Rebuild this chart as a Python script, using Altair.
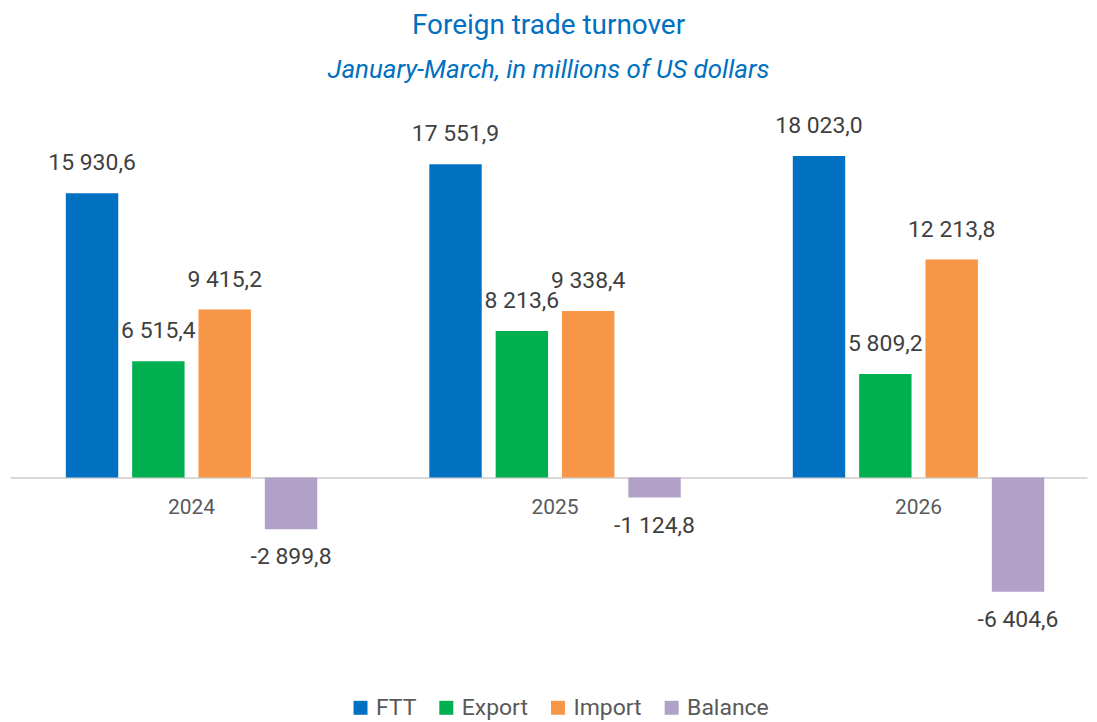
import altair as alt
import pandas as pd

years = ["2024", "2025", "2026"]
series = ["FTT", "Export", "Import", "Balance"]
ftt = [15930.6, 17551.9, 18023.0]
export = [6515.4, 8213.6, 5809.2]
imports = [9415.2, 9338.4, 12213.8]
balance = [-2899.8, -1124.8, -6404.6]
colors = ["#0070C0", "#00B050", "#F79646", "#B1A0C7"]

rows = []
for i, y in enumerate(years):
    for s, vals in zip(series, [ftt, export, imports, balance]):
        rows.append({"year": y, "series": s, "value": vals[i]})
df = pd.DataFrame(rows)


def fmt(v):
    s = f"{abs(v):,.1f}".replace(",", " ").replace(".", ",")
    return ("-" if v < 0 else "") + s


df["label"] = df["value"].apply(fmt)

W = 1080
H = 501
FONT = "Roboto"
YMIN, YMAX = -8000, 20000
zero_from_bottom = H * (0 - YMIN) / (YMAX - YMIN)

x_enc = alt.X(
    "year:N",
    scale=alt.Scale(paddingInner=0.27, paddingOuter=0.1165, align=0.577),
    axis=alt.Axis(title=None, orient="bottom", offset=-zero_from_bottom,
                  ticks=False, domainColor="#D9D9D9", domainWidth=2,
                  labelFont=FONT, labelFontSize=21, labelColor="#595959",
                  labelPadding=30, labelBaseline="middle", labelAngle=0),
)
xoff = alt.XOffset("series:N", sort=series,
                   scale=alt.Scale(paddingInner=0.21, paddingOuter=0.105))
y_enc = alt.Y("value:Q", axis=None,
              scale=alt.Scale(domain=[YMIN, YMAX], nice=False, zero=True))

base = alt.Chart(df)

bars = base.mark_bar().encode(
    x=x_enc, xOffset=xoff, y=y_enc,
    color=alt.Color("series:N", sort=series,
                    scale=alt.Scale(domain=series, range=colors),
                    legend=alt.Legend(title=None, orient="none", direction="horizontal",
                                      legendX=340, legendY=577, symbolType="square",
                                      symbolSize=196, symbolStrokeWidth=0,
                                      labelFont=FONT, labelFontSize=23, labelColor="#595959",
                                      columnPadding=18, labelOffset=4, padding=0)),
)

pos_labels = base.transform_filter("datum.value >= 0").mark_text(
    font=FONT, fontSize=23, color="#404040", dy=-30, baseline="middle"
).encode(x=x_enc, xOffset=xoff, y=y_enc, text="label:N")

neg_labels = base.transform_filter("datum.value < 0").mark_text(
    font=FONT, fontSize=23, color="#404040", dy=28, baseline="middle"
).encode(x=x_enc, xOffset=xoff, y=y_enc, text="label:N")

chart = alt.layer(bars, pos_labels, neg_labels).properties(
    width=W, height=H,
    padding={"left": 2, "top": 112, "right": 2, "bottom": 100},
    autosize=alt.AutoSizeParams(type="none"),
    title=alt.TitleParams(
        text="Foreign trade turnover",
        subtitle="January-March, in millions of US dollars",
        anchor="middle", font=FONT, fontSize=28, fontWeight="normal", color="#0070C0",
        subtitleFont=FONT, subtitleFontSize=26, subtitleFontStyle="italic",
        subtitleColor="#0070C0", subtitlePadding=17, offset=32,
    ),
).configure_view(stroke=None)

chart.save("out.html", embed_options={"renderer": "svg", "actions": False})
